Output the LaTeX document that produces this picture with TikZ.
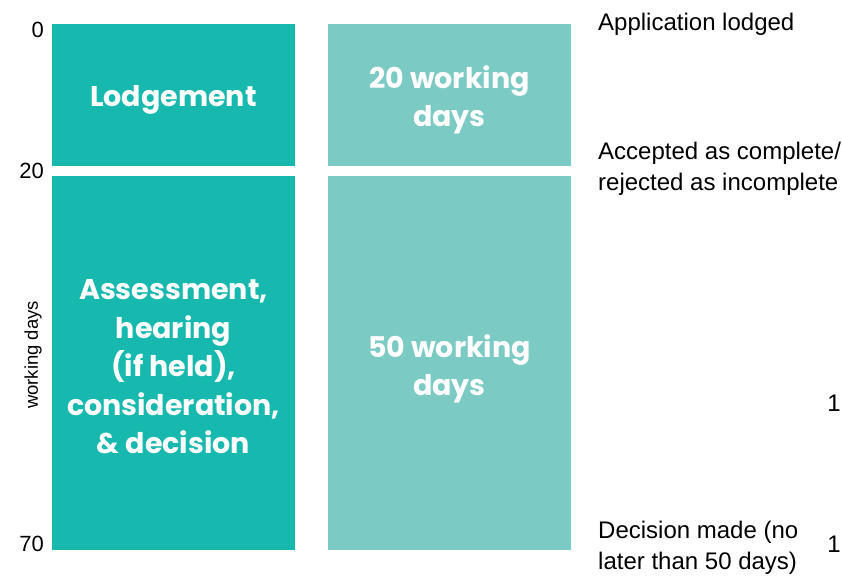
\documentclass[tikz,border=0pt]{standalone}
\usepackage{fontspec}
\setmainfont{Liberation Sans}
\newfontfamily\pop{Poppins}
\definecolor{darkteal}{HTML}{17B8AD}
\definecolor{lightteal}{HTML}{7BCAC3}
\begin{document}
\begin{tikzpicture}[x=1pt,y=-1pt,
  box/.style={inner sep=0pt,outer sep=0pt},
  boxtext/.style={text=white,font=\pop\bfseries\fontsize{28.5}{38.5}\selectfont,align=center},
  lbl/.style={font=\fontsize{24}{31.5}\selectfont,align=left,anchor=west,inner sep=0pt},
  num/.style={font=\fontsize{22}{26}\selectfont,anchor=east,inner sep=0pt}]
\useasboundingbox (0,0) rectangle (842,576);
\fill[darkteal] (52,24) rectangle (295,166);
\fill[darkteal] (52,176) rectangle (295,550);
\fill[lightteal] (328,24) rectangle (571,166);
\fill[lightteal] (328,176) rectangle (571,550);
\node[boxtext] (lodg) at (173.5,100) {Lodgement};
\node[boxtext] (assess) at (173.5,367) {Assessment,\\hearing\\(if held),\\consideration,\\\& decision};
\node[boxtext] (t20) at (449.5,100) {20 working\\days};
\node[boxtext] (t50) at (449.5,369) {50 working\\days};
\node[num] (n0) at (44,30) {0};
\node[num] (n20) at (44,171) {20};
\node[num] (n70) at (44,544) {70};
\node[font=\fontsize{18.5}{20}\selectfont,rotate=90,inner sep=0pt] (wd) at (33,355) {working days};
\node[lbl] (app) at (598,24) {Application lodged};
\node[lbl] (acc) at (598,169) {Accepted as complete/\\rejected as incomplete};
\node[lbl] (dec) at (598,548) {Decision made (no\\later than 50 days)};
\node[num,font=\fontsize{24}{26}\selectfont] (one1) at (841,403) {1};
\node[num,font=\fontsize{24}{26}\selectfont] (one2) at (841,544) {1};
\end{tikzpicture}
\end{document}
